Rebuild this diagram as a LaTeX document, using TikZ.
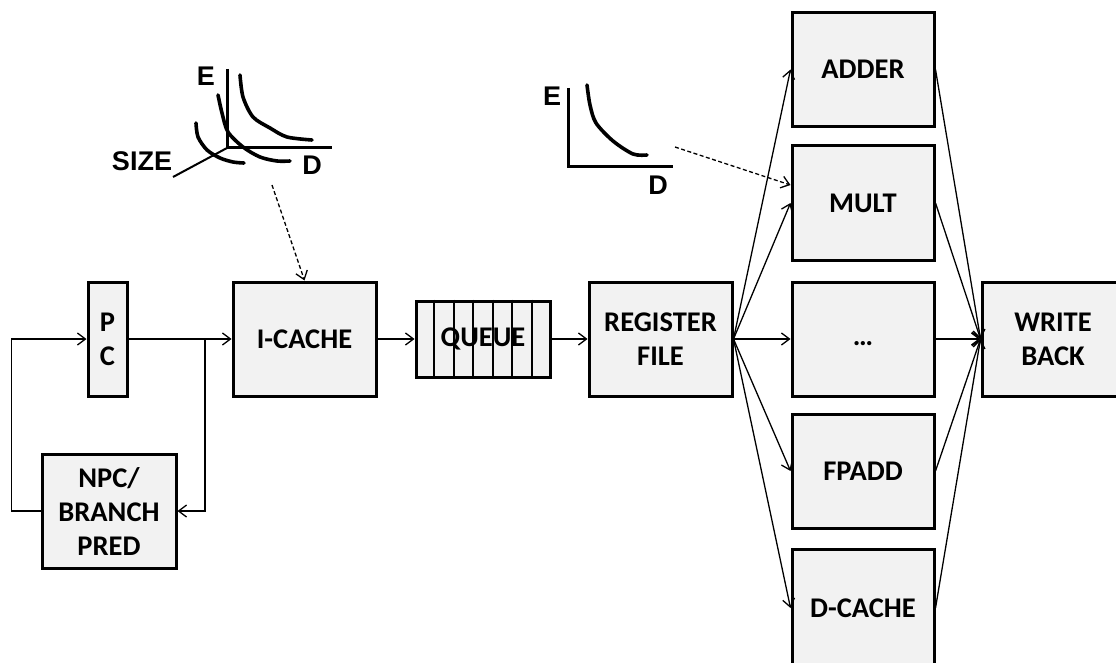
\documentclass[tikz,border=0pt]{standalone}
\usepackage{fontspec}
\setmainfont{Carlito}
\newfontfamily\plotfont{Liberation Sans}
\usetikzlibrary{arrows.meta,calc}
\definecolor{boxfill}{HTML}{F2F2F2}
\tikzset{
  blk/.style={draw=black, line width=3pt, fill=boxfill, rectangle, inner sep=0pt,
    align=center, font=\fontsize{28.5}{34}\selectfont\bfseries},
  conn/.style={line width=1.3pt, -{Straight Barb[length=8pt,width=12pt,line width=1.3pt]}},
  dconn/.style={conn, dash pattern=on 4pt off 2.5pt},
  axis/.style={line width=3pt},
  curve/.style={line width=3.6pt, line cap=round, line join=round},
  plabel/.style={font=\fontsize{27}{31}\selectfont\plotfont\bfseries, inner sep=0pt}
}
\begin{document}
\begin{tikzpicture}[x=1pt,y=-1pt]
\useasboundingbox (0,0) rectangle (1116,663);
% main pipeline boxes
\node[blk, minimum width=39pt, minimum height=114pt] (pc) at (107.5,339) {P\\C};
\node[blk, minimum width=143pt, minimum height=114pt] (icache) at (304.5,339) {I-CACHE};
\node[blk, minimum width=134pt, minimum height=114pt] (npc) at (109,511) {NPC/\\BRANCH\\PRED};
\node[blk, minimum width=134pt, minimum height=76pt] (queue) at (483,339) {};
\foreach \i in {1,...,6}
  \draw[line width=2pt] ($(queue.north west)!\i/7!(queue.north east)$) -- ($(queue.south west)!\i/7!(queue.south east)$);
\node[font=\fontsize{28.5}{34}\selectfont\bfseries, inner sep=0pt] (qlabel) at (queue.center) {QUEUE};
\node[blk, minimum width=143pt, minimum height=114pt] (regfile) at (660.5,339) {REGISTER\\FILE};
% functional units
\node[blk, minimum width=142pt, minimum height=114pt] (adder) at (863,69.5) {ADDER};
\node[blk, minimum width=142pt, minimum height=114pt] (mult) at (863,203) {MULT};
\node[blk, minimum width=142pt, minimum height=114pt] (dots) at (863,339) {\strut…};
\node[blk, minimum width=142pt, minimum height=114pt] (fpadd) at (863,471) {FPADD};
\node[blk, minimum width=142pt, minimum height=118pt] (dcache) at (863,608) {D-CACHE};
\node[blk, minimum width=142pt, minimum height=114pt] (wb) at (1053,339) {WRITE\\BACK};
% connectors
\coordinate (br) at (205,339);
\draw[conn] (pc.east) -- (icache.west);
\draw[conn] (br) |- (npc.east);
\draw[conn] (npc.west) -- ++(-29,0) |- (pc.west);
\draw[conn] (icache.east) -- (queue.west);
\draw[conn] (queue.east) -- (regfile.west);
\foreach \u in {adder,mult,dots,fpadd,dcache} {
  \draw[conn] (regfile.east) -- (\u.west);
  \draw[conn] (\u.east) -- (wb.west);
}
% plot 1 (E-D-SIZE)
\draw[axis] (227,69) -- (227,148) -- (332,148);
\draw[line width=2pt] (227,148) -- (173,177);
\draw[curve] plot[smooth] coordinates {(240,75) (243,97) (253,117) (270,128) (287,137) (312,140)};
\draw[curve] plot[smooth] coordinates {(218,95) (222,113) (228,132) (243,147) (260,157) (277,161) (290,161)};
\draw[curve] plot[smooth] coordinates {(196,123) (198,137) (207,150) (220,158) (233,162) (244,163)};
\node[plabel] (e1) at (206,76) {E};
\node[plabel] (s1) at (142,161) {SIZE};
\node[plabel] (d1) at (312,165) {D};
\coordinate (d1s) at (272,185);
\draw[dconn] (d1s) -- (icache.north);
% plot 2 (E-D)
\draw[axis] (568,88) -- (568,167) -- (673,167);
\draw[curve] plot[smooth] coordinates {(587,85) (590,105) (596,123) (613,141) (633,154) (647,155)};
\node[plabel] (e2) at (552,96) {E};
\node[plabel] (d2) at (658,185) {D};
\coordinate (d2s) at (675,147);
\draw[dconn] (d2s) -- ([yshift=18pt]mult.west);
\end{tikzpicture}
\end{document}
